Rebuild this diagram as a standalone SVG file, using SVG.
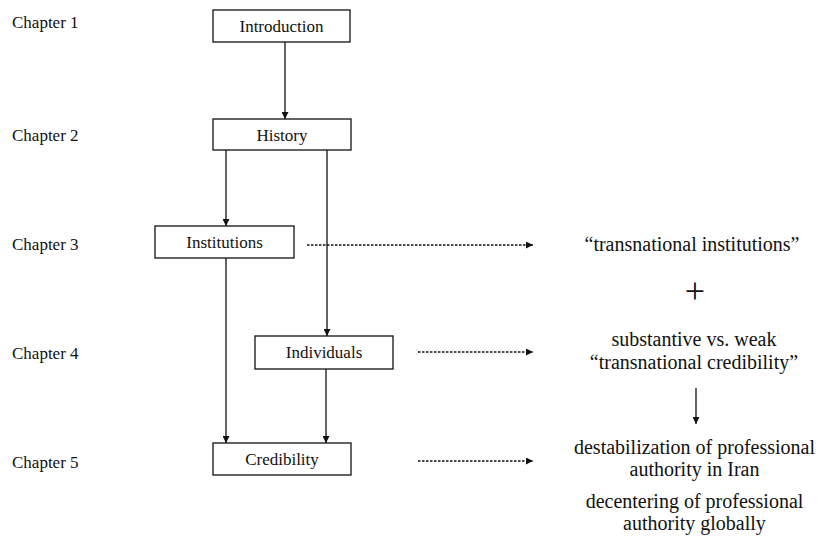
<svg xmlns="http://www.w3.org/2000/svg" width="822" height="558" viewBox="0 0 822 558">
<style>
text{font-family:"Liberation Serif","Times New Roman",serif;fill:#111}
.ch{font-size:17px}
.bx{font-size:17px;text-anchor:middle}
.rt{font-size:20px;text-anchor:middle}
rect{fill:#fff;stroke:#111;stroke-width:1.3}
.ln{stroke:#111;stroke-width:1.3;fill:none}
.dt{stroke:#111;stroke-width:1.3;fill:none;stroke-dasharray:2.5 1.5}
</style>
<defs>
<marker id="ah" viewBox="0 0 10 10" refX="10" refY="5" markerWidth="7" markerHeight="7" markerUnits="userSpaceOnUse" orient="auto">
<path d="M0,0 L10,5 L0,10 z" fill="#111"/>
</marker>
</defs>
<rect width="822" height="558" fill="#fff" style="stroke:none"/>
<g id="chapters">
<text class="ch" x="12" y="28">Chapter 1</text>
<text class="ch" x="12" y="141">Chapter 2</text>
<text class="ch" x="12" y="250">Chapter 3</text>
<text class="ch" x="12" y="359">Chapter 4</text>
<text class="ch" x="12" y="468">Chapter 5</text>
</g>
<g id="connectors">
<line class="ln" x1="285" y1="42" x2="285" y2="119" marker-end="url(#ah)"/>
<line class="ln" x1="226" y1="150" x2="226" y2="226" marker-end="url(#ah)"/>
<line class="ln" x1="327" y1="150" x2="327" y2="336" marker-end="url(#ah)"/>
<line class="ln" x1="226" y1="258" x2="226" y2="443" marker-end="url(#ah)"/>
<line class="ln" x1="326" y1="369" x2="326" y2="443" marker-end="url(#ah)"/>
<line class="dt" x1="307" y1="245" x2="533" y2="245" marker-end="url(#ah)"/>
<line class="dt" x1="418" y1="352" x2="533" y2="352" marker-end="url(#ah)"/>
<line class="dt" x1="418" y1="461" x2="533" y2="461" marker-end="url(#ah)"/>
<line class="ln" x1="696" y1="388" x2="696" y2="424" marker-end="url(#ah)"/>
</g>
<g id="introduction">
<rect x="213" y="10" width="137" height="32"/>
<text class="bx" x="281.5" y="32">Introduction</text>
</g>
<g id="history">
<rect x="213" y="119" width="138" height="31"/>
<text class="bx" x="282" y="141">History</text>
</g>
<g id="institutions">
<rect x="155" y="226" width="139" height="32"/>
<text class="bx" x="224.5" y="248">Institutions</text>
</g>
<g id="individuals">
<rect x="255" y="336" width="138" height="33"/>
<text class="bx" x="324" y="358">Individuals</text>
</g>
<g id="credibility">
<rect x="213" y="443" width="138" height="32"/>
<text class="bx" x="282" y="465">Credibility</text>
</g>
<g id="right-text">
<text class="rt" x="692" y="251">“transnational institutions”</text>
<text class="rt" x="695" y="303" style="font-size:36px">+</text>
<text class="rt" x="694" y="346">substantive vs. weak</text>
<text class="rt" x="694" y="369">“transnational credibility”</text>
<text class="rt" x="694.5" y="454">destabilization of professional</text>
<text class="rt" x="694.5" y="476">authority in Iran</text>
<text class="rt" x="694.5" y="508">decentering of professional</text>
<text class="rt" x="694.5" y="530">authority globally</text>
</g>
</svg>
